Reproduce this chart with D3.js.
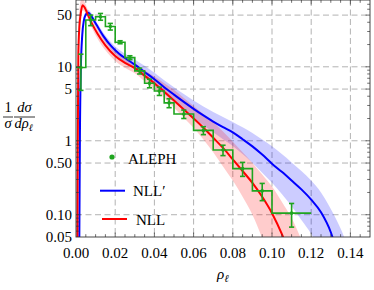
<!DOCTYPE html>
<html>
<head>
<meta charset="utf-8">
<script src="https://cdn.jsdelivr.net/npm/d3@7"></script>
<style>
  body { margin: 0; background: #fff; }
</style>
</head>
<body>
<svg width="374" height="290" font-family="Liberation Serif"></svg>
<script>
// ALEPH histogram
const binEdges = [0, 0.005, 0.01, 0.015, 0.02, 0.025, 0.03, 0.035, 0.04, 0.045, 0.05,
                  0.06, 0.07, 0.08, 0.09, 0.10, 0.12];
const alephValues = [9.8, 43, 47.6, 35, 21.5, 13.3, 8.8, 6.0, 4.7, 3.25, 2.3, 1.38, 0.75, 0.42, 0.21, 0.105];
const alephErrors = [5, 7, 5, 3.6, 1, 0.8, 0.8, 0.8, 0.6, 0.45, 0.3, 0.17, 0.12, 0.09, 0.055, 0.037];

// NLL (red)
const nllRho = [0.0004, 0.0007, 0.0009, 0.0012, 0.0017, 0.0024, 0.0034, 0.0045, 0.006, 0.008, 0.011,
                0.015, 0.020, 0.025, 0.030, 0.035, 0.040, 0.045, 0.050, 0.055, 0.060, 0.065, 0.070,
                0.075, 0.080, 0.085, 0.090, 0.095, 0.100, 0.105, 0.110, 0.115];
const nllVal = [0.001, 0.05, 1, 15, 34, 52, 68, 63, 51, 39, 28, 19.5, 14, 11.3, 9.6, 7.6, 6.0, 4.6, 3.5,
                2.65, 2.0, 1.5, 1.1, 0.8, 0.56, 0.39, 0.27, 0.175, 0.105, 0.055, 0.025, 0.01];
const nllLo = [0.001, 0.001, 0.3, 5, 22, 45, 58, 55, 45, 34, 24, 16.7, 12.0, 9.7, 8.2, 6.4, 5.0, 3.8, 2.8,
               2.05, 1.5, 1.04, 0.7, 0.45, 0.29, 0.175, 0.1, 0.048, 0.02, 0.008, 0.003, 0.001];
const nllHi = [0.2, 4, 15, 35, 58, 78, 85, 74, 59, 45, 32.5, 22.8, 16.3, 13.1, 11.2, 9.0, 7.4, 6.0, 4.9,
               3.8, 2.95, 2.3, 1.78, 1.33, 0.97, 0.7, 0.5, 0.35, 0.24, 0.15, 0.09, 0.046];

// NLL' (blue)
const nlpRho = [0.0012, 0.0017, 0.0020, 0.0025, 0.0032, 0.0040, 0.0050, 0.0062, 0.0075, 0.009, 0.011,
                0.014, 0.018, 0.022, 0.026, 0.030, 0.035, 0.040, 0.045, 0.050, 0.055, 0.060, 0.065,
                0.070, 0.075, 0.080, 0.085, 0.090, 0.095, 0.100, 0.105, 0.110, 0.115, 0.120, 0.125,
                0.130, 0.135, 0.140];
const nlpVal = [0.001, 0.05, 1.2, 10, 27, 42, 51, 54, 50, 43, 35, 26, 19, 15, 12.6, 10.7, 8.5, 6.8, 5.3,
                4.2, 3.35, 2.7, 2.2, 1.82, 1.53, 1.3, 1.05, 0.84, 0.65, 0.49, 0.38, 0.29, 0.22, 0.16,
                0.108, 0.058, 0.02, 0.005];
const nlpLo = [0.001, 0.002, 0.3, 5, 22, 38, 47, 50, 46, 39.5, 32, 23.5, 17, 13.3, 11, 9.2, 7.2, 5.6, 4.3,
               3.35, 2.6, 2.05, 1.62, 1.3, 1.05, 0.85, 0.66, 0.5, 0.37, 0.27, 0.19, 0.13, 0.085, 0.055,
               0.03, 0.012, 0.004, 0.001];
const nlpHi = [0.01, 0.3, 3, 15, 32, 47, 56, 59, 55, 47, 38.5, 28.8, 21.3, 17, 14.5, 12.6, 10.3, 8.3, 6.6,
               5.3, 4.3, 3.5, 2.9, 2.45, 2.1, 1.8, 1.52, 1.27, 1.04, 0.84, 0.66, 0.51, 0.39, 0.29, 0.2,
               0.12, 0.065, 0.03];

const xTicks = [0, 0.02, 0.04, 0.06, 0.08, 0.10, 0.12, 0.14];
const yTicks = [0.05, 0.1, 0.5, 1, 5, 10, 50];
const yTickLabels = ["0.05", "0.10", "0.50", "1", "5", "10", "50"];
const yGrid = [0.1, 0.5, 1, 5, 10, 50];

const svg = d3.select("svg"),
      margin = {top: 0, right: 4, bottom: 53, left: 76},
      width = +svg.attr("width") - margin.left - margin.right,
      height = +svg.attr("height") - margin.top - margin.bottom;

const g = svg.append("g")
  .attr("transform", `translate(${margin.left},${margin.top})`);

const x = d3.scaleLinear().domain([0, 0.15]).range([0, width]);
const y = d3.scaleLog().domain([0.05, 80]).range([height, 0]);

g.append("clipPath").attr("id", "plotclip")
  .append("rect").attr("width", width).attr("height", height);

// grid
g.selectAll(".vgrid").data(xTicks.slice(1)).enter().append("line")
  .attr("x1", d => x(d)).attr("x2", d => x(d))
  .attr("y1", 0).attr("y2", height)
  .attr("stroke", "#b3b3b3").attr("stroke-dasharray", "6,3.5");
g.selectAll(".hgrid").data(yGrid).enter().append("line")
  .attr("x1", 0).attr("x2", width)
  .attr("y1", d => y(d)).attr("y2", d => y(d))
  .attr("stroke", "#b3b3b3").attr("stroke-dasharray", "6,3.5");

const plot = g.append("g").attr("clip-path", "url(#plotclip)");

const band = (rho, lo, hi) => d3.area()
  .x((d, i) => x(rho[i]))
  .y0((d, i) => y(lo[i]))
  .y1((d, i) => y(hi[i]))
  .curve(d3.curveMonotoneX)(rho);
const curve = (rho, v) => d3.line()
  .x((d, i) => x(rho[i]))
  .y((d, i) => y(v[i]))
  .curve(d3.curveMonotoneX)(rho);

plot.append("path").attr("d", band(nlpRho, nlpLo, nlpHi))
  .attr("fill", "#0000ff").attr("fill-opacity", 0.2);
plot.append("path").attr("d", band(nllRho, nllLo, nllHi))
  .attr("fill", "#ff0000").attr("fill-opacity", 0.2);
plot.append("path").attr("d", curve(nlpRho, nlpVal))
  .attr("fill", "none").attr("stroke", "#0000ff").attr("stroke-width", 2);
plot.append("path").attr("d", curve(nllRho, nllVal))
  .attr("fill", "none").attr("stroke", "#ff0000").attr("stroke-width", 2);

// ALEPH step histogram
const green = "#1fa51f";
const stepPts = [];
alephValues.forEach((v, i) => {
  stepPts.push([binEdges[i], v]);
  stepPts.push([binEdges[i + 1], v]);
});
plot.append("path")
  .attr("d", d3.line().x(d => x(d[0])).y(d => y(d[1]))(stepPts))
  .attr("fill", "none").attr("stroke", green).attr("stroke-width", 1.6);

const centers = alephValues.map((v, i) => (binEdges[i] + binEdges[i + 1]) / 2);
const bars = plot.selectAll(".err").data(alephValues).enter().append("g");
bars.append("line")
  .attr("x1", (d, i) => x(centers[i])).attr("x2", (d, i) => x(centers[i]))
  .attr("y1", (d, i) => y(d + alephErrors[i])).attr("y2", (d, i) => y(d - alephErrors[i]))
  .attr("stroke", green).attr("stroke-width", 1.6);
[1, -1].forEach(s => {
  bars.append("line")
    .attr("x1", (d, i) => x(centers[i]) - 2.6).attr("x2", (d, i) => x(centers[i]) + 2.6)
    .attr("y1", (d, i) => y(d + s * alephErrors[i])).attr("y2", (d, i) => y(d + s * alephErrors[i]))
    .attr("stroke", green).attr("stroke-width", 1.6);
});
bars.append("circle")
  .attr("cx", (d, i) => x(centers[i])).attr("cy", d => y(d))
  .attr("r", 1.8).attr("fill", green);

// frame and ticks
g.append("rect").attr("width", width).attr("height", height)
  .attr("fill", "none").attr("stroke", "#333").attr("stroke-width", 0.9);

const xMinor = d3.range(1, 30).map(k => k * 0.005);
xMinor.forEach(t => {
  const len = xTicks.some(m => Math.abs(m - t) < 1e-9) ? 4.5 : 2.8;
  g.append("line").attr("x1", x(t)).attr("x2", x(t)).attr("y1", height).attr("y2", height - len)
    .attr("stroke", "#333").attr("stroke-width", 0.7);
  g.append("line").attr("x1", x(t)).attr("x2", x(t)).attr("y1", 0).attr("y2", len)
    .attr("stroke", "#333").attr("stroke-width", 0.7);
});
const yMinor = [];
[0.01, 0.1, 1, 10].forEach(dec => d3.range(1, 10).forEach(k => {
  const v = dec * k;
  if (v > 0.05 && v < 80) yMinor.push(v);
}));
yMinor.forEach(t => {
  const len = yTicks.includes(t) ? 4.5 : 2.8;
  g.append("line").attr("x1", 0).attr("x2", len).attr("y1", y(t)).attr("y2", y(t))
    .attr("stroke", "#333").attr("stroke-width", 0.7);
  g.append("line").attr("x1", width).attr("x2", width - len).attr("y1", y(t)).attr("y2", y(t))
    .attr("stroke", "#333").attr("stroke-width", 0.7);
});

// tick labels
g.selectAll(".xl").data(xTicks).enter().append("text")
  .attr("x", d => x(d)).attr("y", height + 21)
  .attr("text-anchor", "middle").attr("font-size", 15)
  .text(d => d.toFixed(2));
g.selectAll(".yl").data(yTicks).enter().append("text")
  .attr("x", -4).attr("y", d => y(d) + 5)
  .attr("text-anchor", "end").attr("font-size", 15)
  .text((d, i) => yTickLabels[i]);

// axis labels
const xl = svg.append("text").attr("x", 217).attr("y", 279).attr("font-size", 15);
xl.append("tspan").attr("font-style", "italic").text("ρ");
xl.append("tspan").attr("dy", 3).attr("font-size", 10.5).attr("font-style", "italic").text("ℓ");

const yl = svg.append("g").attr("font-size", 14.5);
yl.append("text").attr("x", 8).attr("y", 112).attr("text-anchor", "middle").text("1");
yl.append("line").attr("x1", 3).attr("x2", 13).attr("y1", 117).attr("y2", 117).attr("stroke", "#000").attr("stroke-width", 0.8);
yl.append("text").attr("x", 8).attr("y", 128).attr("text-anchor", "middle").attr("font-style", "italic").text("σ");
yl.append("text").attr("x", 24.5).attr("y", 112).attr("text-anchor", "middle").attr("font-style", "italic").text("dσ");
yl.append("line").attr("x1", 14).attr("x2", 35).attr("y1", 117).attr("y2", 117).attr("stroke", "#000").attr("stroke-width", 0.8);
const dr = yl.append("text").attr("x", 14.5).attr("y", 128).attr("font-style", "italic");
dr.append("tspan").text("dρ");
dr.append("tspan").attr("dy", 3).attr("font-size", 10).text("ℓ");

// legend
const legend = svg.append("g").attr("font-size", 15);
legend.append("circle").attr("cx", 112).attr("cy", 157).attr("r", 2.6).attr("fill", green);
legend.append("text").attr("x", 128).attr("y", 163.5).text("ALEPH");
legend.append("line").attr("x1", 100).attr("x2", 125).attr("y1", 190.7).attr("y2", 190.7)
  .attr("stroke", "#0000ff").attr("stroke-width", 2);
legend.append("text").attr("x", 133).attr("y", 196).text("NLL′");
legend.append("line").attr("x1", 102).attr("x2", 127).attr("y1", 219).attr("y2", 219)
  .attr("stroke", "#ff0000").attr("stroke-width", 2);
legend.append("text").attr("x", 136).attr("y", 224.5).text("NLL");
</script>
</body>
</html>
